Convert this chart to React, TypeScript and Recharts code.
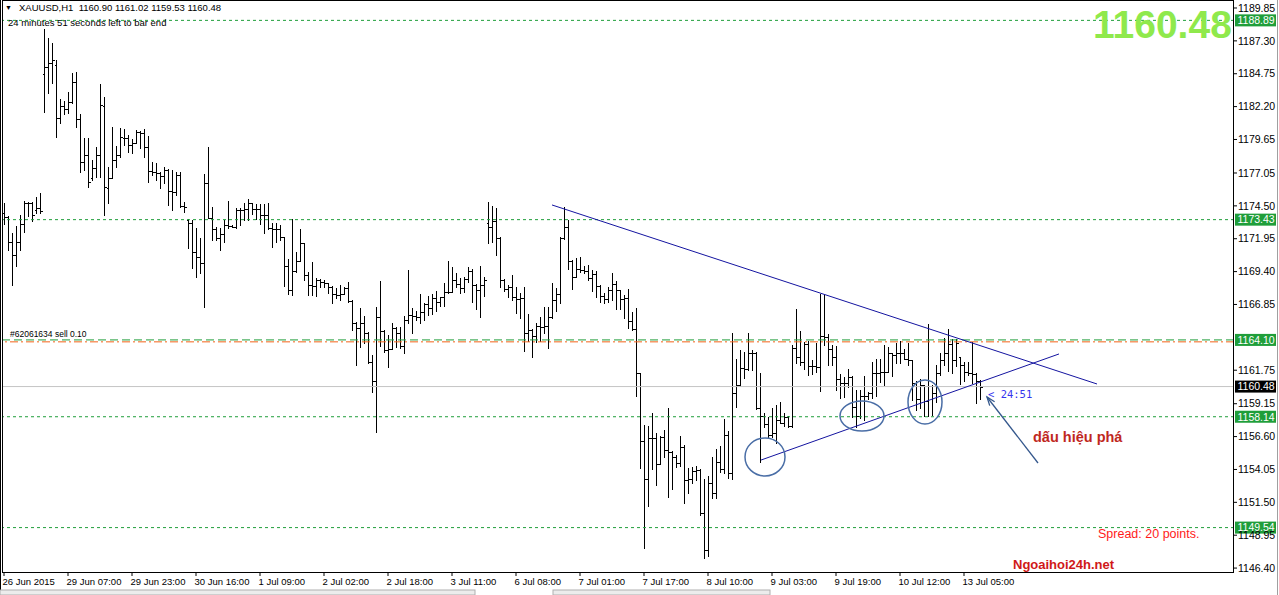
import React from 'react';
import { ComposedChart, Bar, XAxis, YAxis, ReferenceLine, ReferenceDot } from 'recharts';

type Ohlc = [number, number, number, number]; // open, high, low, close

// XAUUSD H1 bars, one array per trading day
const jun26: Ohlc[] = [
  [1173.92, 1174.75, 1173.09, 1173.66], [1173.66, 1173.71, 1171.08, 1171.72], [1171.72, 1172.37, 1168.36, 1170.69],
  [1170.69, 1172.94, 1169.84, 1171.72], [1171.72, 1173.79, 1171.08, 1173.09], [1173.09, 1174.88, 1172.45, 1174.75],
  [1174.70, 1174.80, 1173.71, 1174.70], [1174.75, 1174.83, 1173.35, 1173.79], [1174.18, 1175.16, 1173.97, 1174.31],
  [1174.31, 1175.47, 1173.97, 1174.13],
];
const jun29: Ohlc[] = [
  [1184.73, 1188.20, 1181.81, 1185.30], [1185.25, 1187.50, 1183.23, 1185.56], [1185.61, 1187.16, 1184.00, 1185.82],
  [1185.43, 1185.82, 1179.82, 1181.29], [1181.29, 1182.77, 1180.90, 1182.27], [1182.27, 1182.64, 1181.63, 1182.02],
  [1182.02, 1183.36, 1181.68, 1182.58], [1182.58, 1184.83, 1182.45, 1184.14], [1184.14, 1184.86, 1180.65, 1181.21],
  [1181.21, 1181.60, 1177.15, 1177.93], [1177.93, 1179.74, 1177.28, 1178.45], [1178.45, 1179.74, 1175.99, 1176.33],
  [1176.64, 1178.06, 1176.51, 1177.41], [1177.41, 1179.09, 1176.71, 1178.45], [1178.45, 1183.96, 1176.71, 1182.33],
  [1182.25, 1182.97, 1173.79, 1175.99], [1175.86, 1177.54, 1174.70, 1176.64], [1176.64, 1180.59, 1176.64, 1178.06],
  [1178.06, 1179.15, 1177.54, 1178.45], [1178.45, 1180.52, 1178.32, 1179.82], [1179.74, 1180.44, 1179.22, 1179.74],
  [1179.74, 1180.00, 1178.71, 1179.22], [1179.22, 1179.66, 1178.63, 1179.35],
];
const jun30: Ohlc[] = [
  [1179.35, 1180.39, 1179.35, 1180.26], [1180.26, 1180.30, 1178.97, 1180.18], [1180.18, 1180.44, 1178.32, 1179.04],
  [1179.04, 1179.92, 1176.38, 1177.23], [1177.23, 1177.93, 1176.90, 1177.16], [1177.16, 1177.80, 1176.51, 1177.03],
  [1177.03, 1177.16, 1175.86, 1176.82], [1176.82, 1177.49, 1176.25, 1177.29], [1177.29, 1177.35, 1174.57, 1175.66],
  [1175.66, 1177.29, 1174.18, 1175.60], [1175.60, 1177.16, 1175.35, 1176.90], [1176.90, 1177.16, 1174.44, 1174.49],
  [1174.49, 1174.83, 1174.05, 1174.44], [1173.40, 1173.46, 1171.21, 1173.20], [1173.20, 1173.41, 1169.66, 1170.95],
  [1170.95, 1172.76, 1169.01, 1170.56], [1170.56, 1171.98, 1169.27, 1170.04], [1170.04, 1176.95, 1166.68, 1176.30],
  [1176.30, 1179.10, 1173.54, 1173.54], [1173.54, 1174.44, 1171.85, 1172.68], [1172.68, 1172.84, 1171.85, 1171.98],
  [1171.98, 1172.76, 1171.08, 1172.32], [1172.32, 1173.41, 1171.73, 1173.02],
];
const jul01: Ohlc[] = [
  [1173.02, 1174.91, 1172.76, 1172.94], [1172.94, 1173.02, 1172.84, 1172.89], [1172.89, 1174.31, 1172.76, 1174.18],
  [1174.18, 1174.31, 1173.02, 1174.18], [1174.18, 1174.70, 1173.41, 1174.23], [1174.23, 1175.01, 1173.41, 1174.70],
  [1174.70, 1174.75, 1173.87, 1174.23], [1174.23, 1174.64, 1173.45, 1174.23], [1174.23, 1174.64, 1173.09, 1173.79],
  [1173.79, 1174.64, 1172.37, 1173.79], [1173.79, 1174.70, 1172.70, 1172.76], [1172.76, 1173.14, 1171.33, 1172.68],
  [1172.68, 1173.14, 1171.72, 1172.68], [1172.68, 1173.01, 1171.85, 1172.06], [1172.06, 1172.11, 1168.28, 1169.86],
  [1169.86, 1170.35, 1167.66, 1167.97], [1167.97, 1173.45, 1167.58, 1169.47], [1169.47, 1170.95, 1169.40, 1170.25],
  [1170.25, 1172.68, 1170.20, 1171.59], [1171.59, 1171.64, 1168.75, 1169.14], [1169.14, 1169.40, 1167.58, 1168.36],
  [1168.36, 1170.17, 1167.58, 1168.28], [1168.28, 1168.88, 1167.51, 1168.75],
];
const jul02: Ohlc[] = [
  [1168.75, 1168.85, 1168.23, 1168.62], [1168.62, 1168.75, 1168.23, 1168.49], [1168.49, 1168.55, 1167.71, 1168.23],
  [1168.23, 1168.30, 1166.99, 1167.66], [1167.66, 1168.10, 1167.33, 1167.58], [1167.58, 1168.36, 1167.20, 1167.66],
  [1167.66, 1168.23, 1167.66, 1168.10], [1168.10, 1168.62, 1167.07, 1167.15], [1167.15, 1167.20, 1164.87, 1165.39],
  [1165.39, 1165.52, 1162.15, 1165.00], [1165.00, 1166.55, 1163.58, 1165.44], [1165.44, 1165.96, 1163.83, 1164.66],
  [1164.66, 1164.74, 1162.28, 1162.41], [1162.41, 1162.93, 1160.09, 1160.94], [1160.94, 1166.63, 1156.98, 1165.85],
  [1165.85, 1168.70, 1163.63, 1164.82], [1164.82, 1164.87, 1163.19, 1163.32], [1163.32, 1164.48, 1162.02, 1163.37],
  [1163.37, 1165.39, 1163.37, 1165.00], [1165.00, 1165.13, 1163.58, 1164.66], [1164.66, 1165.08, 1163.45, 1163.63],
  [1163.63, 1165.96, 1163.11, 1165.65], [1165.65, 1169.52, 1165.44, 1166.03],
];
const jul03: Ohlc[] = [
  [1166.03, 1166.55, 1164.66, 1165.96], [1165.96, 1166.37, 1165.65, 1165.91], [1165.91, 1167.66, 1165.39, 1166.29],
  [1166.29, 1166.94, 1165.65, 1166.89], [1166.89, 1167.51, 1166.03, 1166.55], [1166.55, 1167.66, 1166.11, 1167.33],
  [1167.33, 1167.92, 1166.37, 1167.07], [1167.07, 1167.46, 1166.73, 1167.40], [1167.40, 1168.54, 1166.73, 1167.84],
  [1167.84, 1170.25, 1167.71, 1167.84], [1167.84, 1169.73, 1167.84, 1168.75], [1168.75, 1169.32, 1168.23, 1168.41],
  [1168.41, 1168.88, 1167.71, 1168.10], [1168.10, 1168.96, 1167.84, 1168.80], [1168.80, 1169.78, 1168.62, 1169.47],
  [1169.47, 1169.58, 1167.07, 1168.36], [1168.36, 1168.44, 1166.47, 1167.97], [1167.97, 1169.84, 1165.91, 1168.36],
  [1168.36, 1168.96, 1167.51, 1168.75],
];
const jul06: Ohlc[] = [
  [1173.14, 1174.82, 1171.59, 1172.83], [1172.83, 1174.49, 1171.72, 1173.35], [1173.35, 1174.31, 1170.69, 1171.98],
  [1171.98, 1172.06, 1168.18, 1168.75], [1168.75, 1168.80, 1167.92, 1168.02], [1168.02, 1168.36, 1167.46, 1168.23],
  [1168.23, 1169.14, 1167.20, 1167.46], [1167.46, 1168.23, 1166.21, 1167.25], [1167.25, 1167.71, 1165.77, 1167.33],
  [1167.33, 1168.18, 1163.26, 1164.66], [1164.66, 1166.11, 1164.04, 1164.87], [1164.87, 1164.95, 1162.80, 1164.40],
  [1164.40, 1165.44, 1163.96, 1165.18], [1165.18, 1165.85, 1164.04, 1165.13], [1165.13, 1166.63, 1164.66, 1165.18],
  [1165.18, 1166.68, 1163.45, 1165.85], [1165.85, 1168.49, 1165.80, 1167.20], [1167.20, 1168.10, 1166.37, 1167.66],
  [1167.66, 1172.06, 1166.94, 1171.98], [1171.98, 1174.44, 1171.90, 1172.83], [1172.83, 1173.40, 1169.58, 1170.25],
  [1170.25, 1170.30, 1168.02, 1169.01], [1169.01, 1170.43, 1168.96, 1169.58],
];
const jul07: Ohlc[] = [
  [1169.58, 1170.51, 1169.40, 1169.52], [1169.52, 1169.84, 1169.32, 1169.47], [1169.47, 1169.91, 1168.75, 1168.88],
  [1168.88, 1169.52, 1167.92, 1169.21], [1169.21, 1169.47, 1167.46, 1168.28], [1168.28, 1168.35, 1167.07, 1167.51],
  [1167.51, 1167.71, 1166.99, 1167.25], [1167.25, 1168.23, 1167.07, 1167.97], [1167.97, 1169.27, 1167.20, 1168.44],
  [1168.44, 1168.70, 1166.47, 1167.97], [1167.97, 1168.00, 1166.47, 1167.25], [1167.25, 1167.58, 1165.77, 1167.33],
  [1167.33, 1168.02, 1165.00, 1165.59], [1165.59, 1166.29, 1164.87, 1164.92], [1164.92, 1166.55, 1159.75, 1161.51],
  [1161.51, 1161.55, 1154.14, 1156.29], [1156.29, 1157.50, 1147.94, 1153.29], [1153.29, 1157.43, 1151.22, 1156.47],
  [1156.47, 1158.46, 1154.06, 1156.47], [1156.47, 1156.86, 1152.85, 1154.48], [1154.48, 1156.65, 1154.45, 1156.60],
  [1156.60, 1157.12, 1155.05, 1155.56], [1155.56, 1158.80, 1151.94, 1155.43],
];
const jul08: Ohlc[] = [
  [1155.43, 1155.45, 1152.51, 1155.05], [1155.05, 1155.18, 1154.22, 1154.53], [1154.53, 1156.65, 1154.32, 1155.82],
  [1155.82, 1155.95, 1151.48, 1153.24], [1153.24, 1154.14, 1152.25, 1153.29], [1153.29, 1154.22, 1152.98, 1153.96],
  [1153.96, 1154.32, 1153.24, 1154.01], [1154.01, 1154.06, 1150.52, 1150.65], [1150.65, 1153.29, 1147.16, 1147.81],
  [1147.81, 1153.55, 1147.34, 1153.03], [1153.03, 1155.00, 1151.81, 1152.25], [1152.25, 1155.62, 1151.81, 1154.66],
  [1154.66, 1155.87, 1153.88, 1154.06], [1154.06, 1157.94, 1153.81, 1156.73], [1156.73, 1157.00, 1153.37, 1153.75],
  [1153.75, 1164.61, 1153.29, 1159.96], [1159.96, 1162.60, 1158.87, 1160.60], [1160.60, 1163.32, 1160.53, 1161.90],
  [1161.90, 1163.19, 1161.12, 1161.82], [1161.82, 1164.66, 1161.75, 1163.06], [1163.06, 1163.32, 1161.77, 1163.11],
  [1163.11, 1163.15, 1158.72, 1158.79], [1158.79, 1161.51, 1154.66, 1158.20],
];
const jul09: Ohlc[] = [
  [1158.20, 1158.41, 1157.37, 1157.58], [1157.58, 1158.15, 1156.47, 1156.72], [1156.72, 1158.79, 1156.60, 1156.85],
  [1156.85, 1159.05, 1156.08, 1157.89], [1157.89, 1159.31, 1157.63, 1157.68], [1157.68, 1158.41, 1157.42, 1158.10],
  [1158.10, 1158.20, 1157.37, 1157.42], [1157.42, 1163.71, 1157.37, 1163.45], [1163.45, 1166.47, 1162.34, 1162.80],
  [1162.80, 1164.82, 1162.16, 1162.41], [1162.41, 1163.97, 1161.82, 1163.79], [1163.79, 1164.04, 1161.38, 1162.08],
  [1162.08, 1162.54, 1161.46, 1162.08], [1162.08, 1163.89, 1161.64, 1161.97], [1161.97, 1167.66, 1160.16, 1164.41],
  [1164.41, 1167.59, 1163.71, 1164.30], [1164.30, 1164.56, 1162.16, 1163.37], [1163.37, 1163.71, 1162.16, 1162.80],
  [1162.80, 1163.63, 1160.22, 1161.04], [1161.04, 1161.46, 1159.57, 1160.78], [1160.78, 1161.25, 1159.70, 1160.73],
  [1160.73, 1161.82, 1160.47, 1161.20], [1161.20, 1161.30, 1158.10, 1158.87],
];
const jul10: Ohlc[] = [
  [1158.87, 1160.22, 1157.37, 1158.20], [1158.20, 1160.21, 1158.02, 1159.75], [1159.75, 1161.30, 1157.89, 1159.75],
  [1159.75, 1160.08, 1159.49, 1159.95], [1159.95, 1162.41, 1159.57, 1161.51], [1161.51, 1162.59, 1159.75, 1161.51],
  [1161.51, 1162.59, 1160.86, 1161.64], [1161.64, 1163.70, 1160.60, 1161.64], [1161.64, 1163.58, 1161.64, 1163.06],
  [1163.06, 1163.10, 1161.30, 1162.93], [1162.93, 1163.83, 1162.28, 1163.06], [1163.06, 1164.04, 1162.33, 1163.06],
  [1163.06, 1163.37, 1162.59, 1162.59], [1162.59, 1163.89, 1162.15, 1162.54], [1162.54, 1162.54, 1159.44, 1160.73],
  [1160.73, 1160.94, 1158.66, 1159.49], [1159.49, 1161.04, 1158.79, 1160.60], [1160.60, 1160.60, 1158.20, 1159.39],
  [1159.39, 1165.33, 1158.20, 1160.50], [1160.50, 1160.60, 1158.27, 1159.95], [1159.95, 1162.15, 1159.31, 1161.51],
  [1161.51, 1163.11, 1161.38, 1162.54], [1162.54, 1164.22, 1162.15, 1163.06],
];
const jul13: Ohlc[] = [
  [1163.06, 1164.92, 1161.71, 1163.78], [1163.78, 1164.14, 1161.56, 1162.54], [1162.54, 1164.14, 1162.07, 1163.83],
  [1162.80, 1162.80, 1160.68, 1162.15], [1162.15, 1162.41, 1160.94, 1161.64], [1161.64, 1162.41, 1161.38, 1161.56],
  [1161.56, 1163.96, 1160.78, 1161.46], [1161.46, 1161.50, 1159.23, 1160.90], [1160.90, 1161.02, 1159.53, 1160.48],
];

const timeLabels = [
  '26 Jun 2015', '29 Jun 07:00', '29 Jun 23:00', '30 Jun 16:00', '1 Jul 09:00', '2 Jul 02:00', '2 Jul 18:00',
  '3 Jul 11:00', '6 Jul 08:00', '7 Jul 01:00', '7 Jul 17:00', '8 Jul 10:00', '9 Jul 03:00', '9 Jul 19:00',
  '10 Jul 12:00', '13 Jul 05:00',
];
const priceTicks = [
  1189.85, 1187.30, 1184.75, 1182.20, 1179.65, 1177.05, 1174.50, 1171.95, 1169.40, 1166.85,
  1161.75, 1159.15, 1156.60, 1154.05, 1151.50, 1148.95, 1146.40,
];
const levels = [1188.89, 1173.43, 1158.14, 1149.54];
const resistance = 1164.10;
const orderPrice = 1163.95;
const bid = 1160.48;

// annotations, in (bar index, price)
const upperTrend = [{ x: 137, y: 1174.57 }, { x: 273.25, y: 1160.68 }];
const lowerTrend = [{ x: 189.25, y: 1154.78 }, { x: 263.75, y: 1163.01 }];
const circles = [
  { x: 190.25, y: 1155.02, rx: 20, ry: 19 },
  { x: 214.5, y: 1158.2, rx: 22, ry: 15 },
  { x: 230.25, y: 1159.28, rx: 17, ry: 22 },
];
const arrow = [{ x: 258.5, y: 1154.55 }, { x: 245.75, y: 1159.67 }];

const bars = [...jun26, ...jun29, ...jun30, ...jul01, ...jul02, ...jul03, ...jul06, ...jul07, ...jul08, ...jul09, ...jul10, ...jul13]
  .map(([open, high, low, close], i) => ({ i, open, high, low, close, range: [low, high] }));

const font = '"Liberation Sans", "DejaVu Sans", Arial, sans-serif';
const green = '#1f9e3a';

const OhlcBar = (props: any) => {
  const { x, y, width, height, payload } = props;
  const top = Math.min(y, y + height);
  const h = Math.abs(height);
  const cx = Math.round(x + width / 2) + 0.5;
  const span = payload.high - payload.low;
  const py = (v: number) => Math.round(span > 0 ? top + ((payload.high - v) / span) * h : top) + 0.5;
  return (
    <g stroke="#000" strokeWidth={1} shapeRendering="crispEdges">
      <line x1={cx} x2={cx} y1={Math.round(top)} y2={Math.round(top + h) + 1} />
      <line x1={cx - 2} x2={cx} y1={py(payload.open)} y2={py(payload.open)} />
      <line x1={cx} x2={cx + 2} y1={py(payload.close)} y2={py(payload.close)} />
    </g>
  );
};

const TimeTick = (props: any) => {
  const { x, y, payload } = props;
  return (
    <text x={x - 1.5} y={y} dy="0.7em" textAnchor="start" fontSize={9.5} fontFamily={font} fill="#000">
      {timeLabels[Math.round(payload.value / 16)]}
    </text>
  );
};

const priceBox = (value: number, bg: string) => (props: any) => {
  const vb = props.viewBox;
  const x = vb.x + vb.width + 1;
  return (
    <g>
      <rect x={x} y={vb.y - 6} width={41} height={12} fill={bg} />
      <text x={x + 2.5} y={vb.y} dy="0.36em" fill="#fff" fontSize={10.5} fontFamily={font}>{value.toFixed(2)}</text>
    </g>
  );
};

const Arrow = (props: any) => {
  const { x1, y1, x2, y2 } = props;
  const a = Math.atan2(y2 - y1, x2 - x1);
  const len = 9;
  const p1 = [x2 - len * Math.cos(a - 0.35), y2 - len * Math.sin(a - 0.35)];
  const p2 = [x2 - len * Math.cos(a + 0.35), y2 - len * Math.sin(a + 0.35)];
  return (
    <g stroke="#34578c" strokeWidth={1.3} fill="none">
      <line x1={x1} y1={y1} x2={x2} y2={y2} />
      <polyline points={`${p1[0]},${p1[1]} ${x2},${y2} ${p2[0]},${p2[1]}`} />
    </g>
  );
};

const txt = (left: number, top: number, extra: React.CSSProperties = {}): React.CSSProperties => ({
  position: 'absolute', left, top, fontFamily: font, lineHeight: 1, whiteSpace: 'pre', ...extra,
});

export default function App() {
  return (
    <div style={{ position: 'absolute', left: 0, top: 0, width: 1279, height: 595, background: '#fff', overflow: 'hidden' }}>
      <ComposedChart width={1279} height={595} data={bars} margin={{ top: 1, right: 0, bottom: 0, left: 3 }}>
        <XAxis
          dataKey="i"
          type="number"
          domain={[-0.25, 307.5]}
          allowDataOverflow
          ticks={timeLabels.map((_, k) => k * 16)}
          tick={<TimeTick />}
          tickSize={4}
          tickLine={{ stroke: '#000' }}
          axisLine={false}
          height={23}
        />
        <YAxis
          orientation="right"
          type="number"
          domain={[1146.095, 1190.393]}
          allowDataOverflow
          ticks={priceTicks}
          interval={0}
          tickFormatter={(v: number) => v.toFixed(2)}
          tick={{ fontSize: 10.5, fill: '#000', fontFamily: font }}
          tickSize={3}
          tickMargin={1}
          tickLine={{ stroke: '#000' }}
          axisLine={false}
          width={45}
        />
        <ReferenceLine y={bid} stroke="#c4c4c4" strokeWidth={1} label={priceBox(bid, '#000')} />
        {levels.map((v) => (
          <ReferenceLine key={v} y={v} stroke={green} strokeDasharray="3 3" label={priceBox(v, green)} />
        ))}
        <ReferenceLine y={orderPrice} stroke="#f26418" strokeDasharray="8 3 2 3" />
        <ReferenceLine y={resistance} stroke={green} strokeDasharray="8 4" label={priceBox(resistance, green)} />
        <Bar dataKey="range" barSize={2} shape={<OhlcBar />} isAnimationActive={false} />
        <ReferenceLine segment={upperTrend} stroke="#1414a0" strokeWidth={1} />
        <ReferenceLine segment={lowerTrend} stroke="#1414a0" strokeWidth={1} />
        {circles.map((c) => (
          <ReferenceDot
            key={c.x}
            x={c.x}
            y={c.y}
            shape={(p: any) => (
              <ellipse cx={p.cx} cy={p.cy} rx={c.rx} ry={c.ry} fill="none" stroke="#4a6ea6" strokeWidth={1.5} />
            )}
          />
        ))}
        <ReferenceLine segment={arrow} shape={<Arrow />} />
      </ComposedChart>

      <svg width={1279} height={595} style={{ position: 'absolute', left: 0, top: 0, pointerEvents: 'none' }}>
        <g stroke="#000" strokeWidth={1} fill="none" shapeRendering="crispEdges">
          <line x1={0.5} y1={0} x2={0.5} y2={595} />
          <rect x={2.5} y={0.5} width={1231} height={572} />
        </g>
        <line x1={1277.5} y1={0} x2={1277.5} y2={595} stroke="#a0a0a0" />
        <rect x={0} y={590} width={475} height={5} fill="#ececec" stroke="#b0b0b0" />
        <rect x={553} y={590} width={217} height={5} fill="#ececec" stroke="#b0b0b0" />
      </svg>

      <div style={txt(5, 4, { fontSize: 7 })}>▼</div>
      <div style={txt(19, 3, { fontSize: 9.5 })}>{'XAUUSD,H1  1160.90 1161.02 1159.53 1160.48'}</div>
      <div style={txt(8, 18, { fontSize: 9.5 })}>24 minutes 51 seconds left to bar end</div>
      <div style={txt(1093, 5, { fontSize: 39, fontWeight: 700, color: '#8fe94c' })}>1160.48</div>
      <div style={txt(10, 330, { fontSize: 8.5 })}>#62061634 sell 0.10</div>
      <div style={txt(988, 389, { fontSize: 10.5, color: '#3636ee', fontFamily: '"DejaVu Sans Mono", monospace' })}>{'< 24:51'}</div>
      <div style={txt(1033, 430, { fontSize: 14.5, fontWeight: 700, color: '#c0281e' })}>dấu hiệu phá</div>
      <div style={txt(1098, 528, { fontSize: 12.5, color: '#ff1a1a' })}>Spread: 20 points.</div>
      <div style={txt(1013, 558, { fontSize: 13, fontWeight: 700, color: '#d01818' })}>Ngoaihoi24h.net</div>
    </div>
  );
}
